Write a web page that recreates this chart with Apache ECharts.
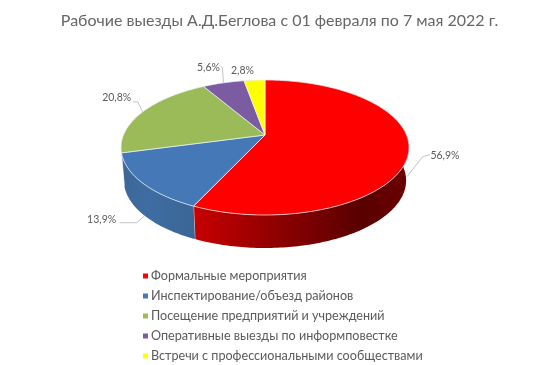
<!DOCTYPE html>
<html>
<head>
<meta charset="utf-8">
<script src="https://cdn.jsdelivr.net/npm/echarts@6/dist/echarts.min.js"></script>
<style>
  html, body { margin: 0; padding: 0; background: #fff; }
  #main { width: 556px; height: 365px; }
</style>
</head>
<body>
<div id="main"></div>
<script>
var categories = ['Формальные мероприятия', 'Инспектирование/объезд районов', 'Посещение предприятий и учреждений', 'Оперативные выезды по информповестке', 'Встречи с профессиональными сообществами']
var values = [56.9, 13.9, 20.8, 5.6, 2.8]
var valueLabels = ['56,9%', '13,9%', '20,8%', '5,6%', '2,8%']

var colors = ['#ff0000', '#4478b6', '#9bbb59', '#7b5ca3', '#ffff00']
var fontName = 'Lato, "Open Sans", sans-serif'

// pie tilted with a little perspective, so the centre sits above the middle of the ellipse
var cx = 265, cy = 135, rx = 141.5, ry = 65.2, persp = 0.185
var depth = 33, bottomScale = 0.98
var total = 0
values.forEach(function (v) { total += v })

function rimPoint(deg) {
  var a = deg * Math.PI / 180
  var u = Math.sin(a), v = -Math.cos(a)
  var w = 1 - persp * v
  return [cx + rx * u / w, cy + ry * v / w]
}
function lowerPoint(deg) {
  var p = rimPoint(deg)
  return [cx + (p[0] - cx) * bottomScale, p[1] + depth]
}
function arc(from, to, fn) {
  var pts = []
  var n = Math.max(2, Math.ceil(Math.abs(to - from)))
  for (var i = 0; i <= n; i++) pts.push(fn(from + (to - from) * i / n))
  return pts
}

// wall gradients only for the slices that face the viewer
var wallStops = [
  [[0, '#6d0000'], [0.22, '#590000'], [0.55, '#860000'], [1, '#c80000']],
  [[0, '#3a6595'], [0.6, '#3f6da3'], [1, '#3d6697']]
]
// leader line bends and label centres, relative to where the line meets the pie
var leaderAnchors = ['wall', 'lower', 'rim', 'rim', 'none']
var leaderBends = [[[16, -20], [23, -22]], [[-8, 7], [-25, 7]], [[-5, -10], [-10, -10]], [[-1, -15], [-3, -17]], []]
var labelOffsets = [[38, -21], [-43, 4], [-26, -14], [-15, -15], [-12, -10]]
var wallFrom = 85, wallTo = 255

function sliceStart(idx) {
  var s = 0
  for (var i = 0; i < idx; i++) s += values[i]
  return s / total * 360
}

function makeRender(idx) {
  return function (params, api) {
    var start = sliceStart(idx)
    var end = start + api.value(0) / total * 360
    var mid = (start + end) / 2
    var children = []

    var a = Math.max(start, wallFrom), b = Math.min(end, wallTo)
    if (b > a && wallStops[idx]) {
      var wall = arc(a, b, rimPoint).concat(arc(b, a, lowerPoint))
      var stops = wallStops[idx].map(function (s) { return { offset: s[0], color: s[1] } })
      children.push({
        type: 'polygon',
        shape: { points: wall },
        style: { fill: new echarts.graphic.LinearGradient(1, 0, 0, 0, stops), stroke: null }
      })
      children.push({
        type: 'polyline',
        shape: { points: [rimPoint(b), lowerPoint(b)] },
        style: { stroke: 'rgba(255,255,255,0.7)', lineWidth: 1, fill: null }
      })
    }

    var top = [[cx, cy]].concat(arc(start, end, rimPoint))
    children.push({
      type: 'polygon',
      z2: 2,
      shape: { points: top },
      style: { fill: colors[idx], stroke: 'rgba(235,240,245,0.75)', lineWidth: 1 }
    })

    var anchor = rimPoint(mid)
    if (leaderAnchors[idx] === 'lower') anchor = lowerPoint(mid)
    if (leaderAnchors[idx] === 'wall') anchor = [anchor[0] - 2, anchor[1] + 27]
    if (leaderAnchors[idx] !== 'none') {
      var line = [anchor].concat(leaderBends[idx].map(function (d) { return [anchor[0] + d[0], anchor[1] + d[1]] }))
      children.push({
        type: 'polyline',
        shape: { points: line },
        style: { stroke: '#c4c4c4', lineWidth: 1, fill: null }
      })
    }
    children.push({
      type: 'text',
      z2: 3,
      x: anchor[0] + labelOffsets[idx][0],
      y: anchor[1] + labelOffsets[idx][1],
      style: {
        text: valueLabels[idx],
        fill: '#595959',
        font: '10.5px ' + fontName,
        align: 'center',
        verticalAlign: 'middle'
      }
    })
    return { type: 'group', children: children }
  }
}

var myChart = echarts.init(document.getElementById('main'), null, { renderer: 'canvas' })
var series = []
for (var i = 0; i < categories.length; i++) {
  series.push({
    name: categories[i],
    type: 'custom',
    coordinateSystem: 'none',
    silent: true,
    animation: false,
    itemStyle: { color: colors[i] },
    renderItem: makeRender(i),
    data: [values[i]]
  })
}

var option = {
  animation: false,
  backgroundColor: '#fff',
  title: {
    text: 'Рабочие выезды А.Д.Беглова с 01 февраля по 7 мая 2022 г.',
    left: 274.5,
    textAlign: 'center',
    top: 8,
    textStyle: { fontFamily: fontName, fontSize: 16, fontWeight: 'normal', color: '#666666' }
  },
  legend: {
    orient: 'vertical',
    left: 143,
    top: 269,
    padding: 0,
    itemGap: 6,
    itemWidth: 5,
    itemHeight: 5,
    icon: 'rect',
    data: categories,
    selectedMode: false,
    textStyle: { fontFamily: fontName, fontSize: 12.6, color: '#595959', padding: [0, 0, 0, -2], lineHeight: 14 }
  },
  series: series
}
myChart.setOption(option, true)
</script>
</body>
</html>
